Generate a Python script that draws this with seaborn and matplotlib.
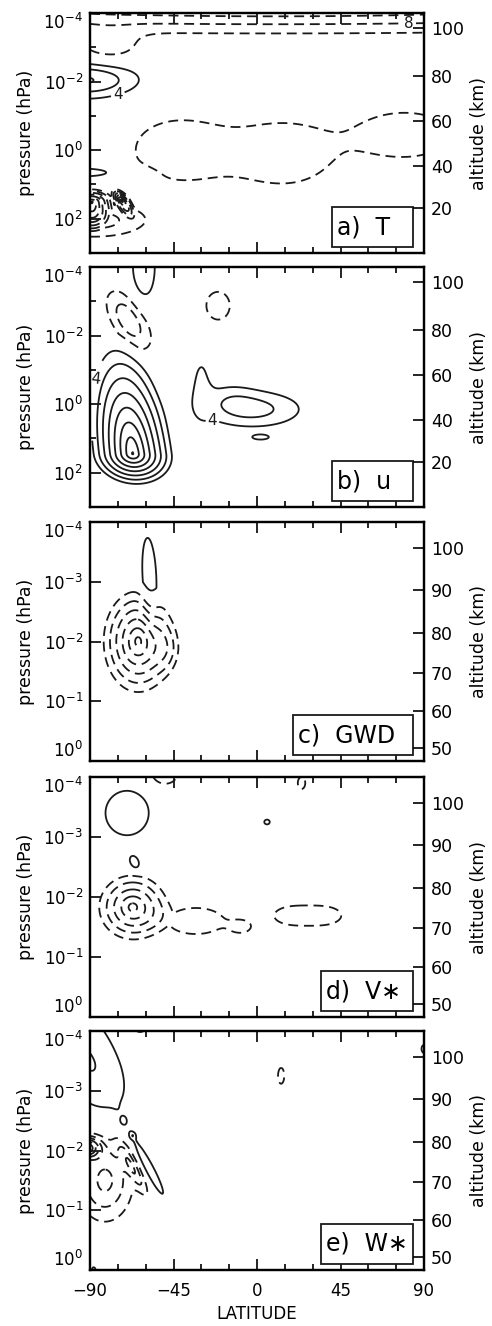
import numpy as np
import matplotlib
matplotlib.use("Agg")
import matplotlib.pyplot as plt
import seaborn as sns
from matplotlib.ticker import FixedLocator, NullLocator, NullFormatter
from matplotlib.patches import Rectangle

# ---------------- data ----------------
# Each field = sum of smooth features. Per feature: centre latitude, centre
# log10(p), latitude half-width, upward / downward log10(p) half-widths,
# amplitude, tilt (deg latitude per decade) and profile ('g' gaussian, 'c' cone)
T_LAT  = [10, -80, -92, -92, -89, -73, -88, -42, 15, 80]
T_LOGP = [-4.32, -3.0, -2.05, 0.65, 1.5, 1.45, 2.05, 0.0, 0.1, -0.45]
T_WLAT = [220, 12, 19.3, 18, 12, 5, 20, 22, 22, 22]
T_WUP  = [0.55, 0.35, 0.37, 0.14, 0.4, 0.35, 0.35, 0.8, 0.8, 0.6]
T_WDN  = [0.55, 0.35, 0.37, 0.14, 0.9, 0.6, 0.35, 0.8, 0.8, 0.6]
T_AMP  = [-16, -6, 12.4, 6, -30, -24, -10, -7, -7, -7]
T_TILT = [0, 0, 0, 0, 0, 10, 0, 0, 0, 0]
T_KIND = ["g", "g", "g", "g", "c", "c", "g", "g", "g", "g"]

U_LAT  = [-67, -61, -69, -21, -2.5, -30, -15, 2]
U_LOGP = [1.45, -4.0, -2.45, -2.87, 0.15, -0.6, -0.25, 0.97]
U_WLAT = [24, 5, 7, 7, 19, 4, 10, 5]
U_WUP  = [3.5, 0.75, 0.6, 0.45, 0.38, 0.7, 0.3, 0.08]
U_WDN  = [1.0, 0.75, 0.6, 0.45, 0.38, 0.7, 0.3, 0.08]
U_AMP  = [32.5, 8, -11, -6, 9.5, 5, 3, 4.6]
U_TILT = [2.4, 0, 8, 0, 0, 0, 0, 0]
U_KIND = ["c", "g", "g", "g", "g", "g", "g", "g"]

G_LAT  = [-58, -64, -47]
G_LOGP = [-3.1, -2.0, -1.85]
G_WLAT = [3.5, 22, 6]
G_WUP  = [0.6, 1.0, 0.3]
G_WDN  = [0.6, 1.0, 0.3]
G_AMP  = [7, -26, -5]
G_TILT = [1.5, 0, 0]
G_KIND = ["g", "c", "g"]

V_LAT  = [-70, -66, 5.4, -67, -33, -8, 18, 37, 24, -50]
V_LOGP = [-3.4, -2.58, -3.25, -1.83, -1.6, -1.5, -1.69, -1.69, -3.9, -4.05]
V_WLAT = [11, 2.5, 2.2, 22, 15, 5, 10, 10, 3, 6]
V_WUP  = [0.35, 0.1, 0.06, 0.65, 0.22, 0.1, 0.16, 0.16, 0.15, 0.15]
V_WDN  = [0.35, 0.1, 0.06, 0.65, 0.22, 0.1, 0.16, 0.16, 0.15, 0.15]
V_AMP  = [7, 5.5, 5, -22, -6.5, -4.5, -5.5, -5.5, -5, -8]
V_TILT = [0, 8, 0, 0, 0, 0, 0, 0, 0, 0]
V_KIND = ["g", "g", "g", "c", "g", "g", "g", "g", "g", "g"]

W_LAT  = [-91, -59, -72, -67, -82, -92, -67, 13, -63, -88, 90]
W_LOGP = [-3.5, -1.75, -2.5, -2.25, -1.5, -2.05, -1.7, -3.25, -4.05, 0.05, -3.7]
W_WLAT = [30, 2.3, 1, 1.2, 10, 5, 2.5, 2.5, 4, 2, 2]
W_WUP  = [1.8, 0.4, 0.04, 0.04, 0.45, 0.12, 0.3, 0.2, 0.1, 0.15, 0.1]
W_WDN  = [1.5, 0.4, 0.04, 0.04, 0.45, 0.12, 0.3, 0.2, 0.1, 0.15, 0.1]
W_AMP  = [9, 8.3, 4.5, 4.5, -13, -24, -9, -5, -5, 5, 5]
W_TILT = [12, 16.7, 0, 0, 0, 0, 16, 0, 0, 0, 0]
W_KIND = ["c", "g", "g", "g", "g", "g", "g", "g", "g", "g", "g"]

PANEL_TAGS = ["a)  T", "b)  u", "c)  GWD", "d)  V\u2217", "e)  W\u2217"]
TAG_BOX_PX = [81, 81, 120, 92, 92]
LAT_TICKS = [-90, -45, 0, 45, 90]
LAT_MINOR = [-75, -60, -30, -15, 15, 30, 60, 75]
ALT_KM   = [112, 100, 90, 80, 70, 60, 50, 40, 20, 0]
ALT_LOGP = [-4.5, -3.56, -2.86, -2.15, -1.48, -0.84, -0.22, 0.45, 1.68, 3.2]
ALT_TICKS_LOW  = [20, 40, 60, 80, 100]
ALT_TICKS_HIGH = [50, 60, 70, 80, 90, 100]
CONTOUR_STEP = 4

# ---------------- style ----------------
sns.set_theme(style="ticks", rc={
    "text.color": "black", "axes.labelcolor": "black", "xtick.color": "black",
    "ytick.color": "black", "axes.edgecolor": "black"})
plt.rcParams["font.family"] = ["DejaVu Sans"]
plt.rcParams["mathtext.default"] = "regular"

W, H = 492, 1326
fig = plt.figure(figsize=(W / 100, H / 100), dpi=100)

panel_px = [(13, 253), (267, 507), (522, 761), (777, 1017), (1031, 1270)]
x0, x1 = 90, 424

lat = np.linspace(-90, 90, 361)


def build(params, zlo, zhi):
    z = np.linspace(zlo, zhi, 800)
    LA, Z = np.meshgrid(lat, z)
    F = np.zeros_like(LA)
    for la, zz, wl, wu, wd, a, tl, kd in zip(*params):
        latc = la + tl * (Z - zz)
        dz = Z - zz
        wz = np.where(dz < 0, wu, wd)
        r = np.sqrt(((LA - latc) / wl) ** 2 + (dz / wz) ** 2)
        if kd == "c":
            F += a * np.clip(1 - r, 0, None)
        else:
            F += a * np.exp(-0.5 * r ** 2)
    return LA, 10.0 ** Z, F


fields = [
    ((T_LAT, T_LOGP, T_WLAT, T_WUP, T_WDN, T_AMP, T_TILT, T_KIND), -4, 3),
    ((U_LAT, U_LOGP, U_WLAT, U_WUP, U_WDN, U_AMP, U_TILT, U_KIND), -4, 3),
    ((G_LAT, G_LOGP, G_WLAT, G_WUP, G_WDN, G_AMP, G_TILT, G_KIND), -4, 0),
    ((V_LAT, V_LOGP, V_WLAT, V_WUP, V_WDN, V_AMP, V_TILT, V_KIND), -4, 0),
    ((W_LAT, W_LOGP, W_WLAT, W_WUP, W_WDN, W_AMP, W_TILT, W_KIND), -4, 0),
]

label_pos = {
    0: [(-75, 10 ** -1.5), (82, 10 ** -3.68)],
    1: [(-87, 10 ** -0.7), (-24, 10 ** 0.3)],
}

dash = (0, (5.5, 3.2))
for i, ((params, zlo, zhi), (ty, by)) in enumerate(zip(fields, panel_px)):
    ax = fig.add_axes([x0 / W, 1 - by / H, (x1 - x0) / W, (by - ty) / H])
    LA, P, F = build(params, zlo, zhi)
    m = np.abs(F).max()
    nmax = int(np.ceil(m / CONTOUR_STEP)) + 1
    levels = [CONTOUR_STEP * k for k in range(-nmax, nmax + 1) if k != 0]
    styles = [dash if l < 0 else "solid" for l in levels]
    cs = ax.contour(LA, P, F, levels=levels, colors="k", linewidths=1.3,
                    linestyles=styles)
    if i in label_pos:
        ax.clabel(cs, manual=label_pos[i], fmt=lambda v: f"{abs(v):.0f}",
                  fontsize=11, inline=True, inline_spacing=2)
    ax.set_yscale("log")
    ax.set_ylim(10.0 ** zhi, 10.0 ** zlo)
    ax.set_xlim(-90, 90)
    ax.xaxis.set_major_locator(FixedLocator(LAT_TICKS))
    ax.xaxis.set_minor_locator(FixedLocator(LAT_MINOR))
    if zhi == 3:
        maj = [1e-4, 1e-2, 1e0, 1e2]
        mnr = [1e-3, 1e-1, 1e1]
        alt_ticks = ALT_TICKS_LOW
    else:
        maj = [1e-4, 1e-3, 1e-2, 1e-1, 1e0]
        mnr = []
        alt_ticks = ALT_TICKS_HIGH
    ax.yaxis.set_major_locator(FixedLocator(maj))
    ax.yaxis.set_minor_locator(FixedLocator(mnr))
    ax.yaxis.set_minor_formatter(NullFormatter())
    ax.set_yticklabels([f"$10^{{{int(np.log10(v))}}}$" for v in maj])
    labs = ax.get_yticklabels()
    labs[0].set_va("top")
    if zhi == 0:
        labs[-1].set_va("bottom")
    ax.tick_params(axis="both", which="major", direction="in", length=8, width=1.2,
                   top=True, labelsize=12)
    ax.tick_params(axis="y", which="major", pad=5)
    ax.tick_params(axis="x", which="major", pad=9)
    ax.tick_params(axis="both", which="minor", direction="in", length=4, width=1.2,
                   top=True)
    ax.tick_params(axis="y", which="both", right=False)
    if i < 4:
        ax.set_xticklabels([])
    else:
        ax.set_xticklabels(["\u221290", "\u221245", "0", "45", "90"])
        ax.set_xlabel("LATITUDE", fontsize=12, labelpad=3)
    ax.set_ylabel("pressure (hPa)", fontsize=12.5, labelpad=6)
    for s in ax.spines.values():
        s.set_linewidth(1.6)

    ax2 = ax.twinx()
    ax2.set_yscale("log")
    ax2.set_ylim(ax.get_ylim())
    tick_p = 10.0 ** np.interp(alt_ticks, ALT_KM[::-1], ALT_LOGP[::-1])
    ax2.yaxis.set_major_locator(FixedLocator(tick_p))
    ax2.yaxis.set_minor_locator(NullLocator())
    ax2.yaxis.set_minor_formatter(NullFormatter())
    ax2.set_yticklabels([str(a) for a in alt_ticks])
    ax2.tick_params(axis="y", direction="in", length=8, width=1.2, labelsize=12.5, pad=5)
    ax2.set_ylabel("altitude (km)", fontsize=12.5, labelpad=4)
    for s in ax2.spines.values():
        s.set_linewidth(1.6)

    bw = TAG_BOX_PX[i] / (x1 - x0)
    bh = 40 / (by - ty)
    bx = (413 - x0) / (x1 - x0) - bw
    byy = 6 / (by - ty)
    ax.add_patch(Rectangle((bx, byy), bw, bh, transform=ax.transAxes, fill=True,
                           fc="white", ec="k", lw=1.3, zorder=5))
    ax.text(bx + 5 / (x1 - x0), byy + bh / 2, PANEL_TAGS[i], transform=ax.transAxes,
            ha="left", va="center", fontsize=17, zorder=6)

fig.savefig("out.png", dpi=100)
